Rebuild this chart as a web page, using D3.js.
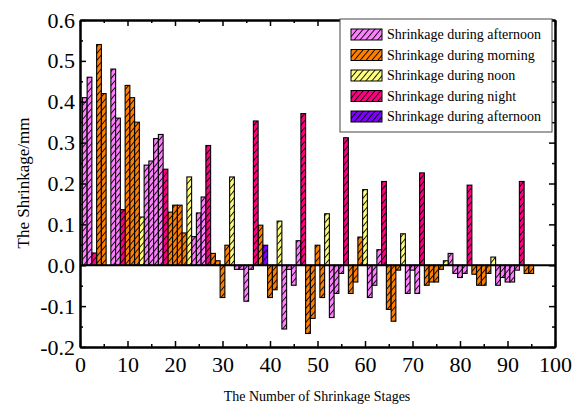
<!DOCTYPE html>
<html>
<head>
<meta charset="utf-8">
<script src="https://cdn.jsdelivr.net/npm/d3@7"></script>
<style>
  body { margin: 0; background: #fff; }
</style>
</head>
<body>
<svg id="chart" width="583" height="408"></svg>
<script>
// series: stage number and shrinkage (mm)
const afternoonStages = [1, 2, 7, 8, 14, 15, 16, 17, 24, 25, 26, 33, 34, 35, 36, 43, 44, 45, 46, 53, 54, 55, 61, 62, 63, 69, 70, 71, 78, 79, 80, 81, 88, 89, 90, 91, 92];
const afternoonValues = [0.41, 0.46, 0.48, 0.36, 0.245, 0.255, 0.31, 0.32, 0.07, 0.128, 0.167, -0.01, -0.01, -0.088, -0.01, -0.156, -0.01, -0.049, 0.06, -0.128, -0.069, -0.02, -0.079, -0.049, 0.038, -0.069, -0.012, -0.069, 0.029, -0.02, -0.03, -0.02, -0.049, -0.03, -0.041, -0.041, -0.012];

const morningStages = [4, 5, 10, 11, 12, 19, 20, 21, 22, 28, 29, 30, 31, 38, 40, 41, 48, 49, 50, 51, 57, 58, 59, 65, 66, 67, 73, 74, 75, 76, 83, 84, 85, 86, 94, 95];
const morningValues = [0.54, 0.42, 0.44, 0.41, 0.35, 0.13, 0.147, 0.147, 0.079, 0.029, 0.011, -0.079, 0.049, 0.098, -0.079, -0.06, -0.167, -0.13, 0.049, -0.079, -0.069, -0.041, 0.069, -0.108, -0.137, -0.012, -0.049, -0.041, -0.041, -0.01, -0.022, -0.049, -0.049, -0.02, -0.02, -0.02];

const noonStages = [13, 23, 32, 42, 52, 60, 68, 77, 87];
const noonValues = [0.118, 0.216, 0.216, 0.108, 0.126, 0.185, 0.077, 0.011, 0.02];

const nightStages = [3, 9, 18, 27, 37, 47, 56, 64, 72, 82, 93];
const nightValues = [0.03, 0.136, 0.235, 0.293, 0.353, 0.371, 0.312, 0.205, 0.226, 0.196, 0.205];

const afternoon2Stages = [39];
const afternoon2Values = [0.049];

const seriesNames = [
  "Shrinkage during afternoon",
  "Shrinkage during morning",
  "Shrinkage during noon",
  "Shrinkage during night",
  "Shrinkage during afternoon"
];
const xTicks = [0, 10, 20, 30, 40, 50, 60, 70, 80, 90, 100];
const yTicks = [-0.2, -0.1, 0, 0.1, 0.2, 0.3, 0.4, 0.5, 0.6];

const colors = ["#ff80ff", "#ff8000", "#ffff80", "#ff0080", "#8000ff"];
const serif = "'Liberation Serif', serif";

const series = [
  [afternoonStages, afternoonValues],
  [morningStages, morningValues],
  [noonStages, noonValues],
  [nightStages, nightValues],
  [afternoon2Stages, afternoon2Values]
].map(([st, vals], k) => st.map((s, i) => ({ stage: s, value: vals[i], k: k })));

const svg = d3.select("#chart");
const x = d3.scaleLinear().domain([0, 100]).range([80, 555]);
const y = d3.scaleLinear().domain([-0.2, 0.6]).range([347, 20]);
const barW = x(1) - x(0);

// hatched fills
const defs = svg.append("defs");
colors.forEach((c, k) => {
  const p = defs.append("pattern")
    .attr("id", "hatch" + k)
    .attr("patternUnits", "userSpaceOnUse")
    .attr("width", 4.5)
    .attr("height", 4.5)
    .attr("patternTransform", "rotate(40)");
  p.append("rect").attr("width", 4.5).attr("height", 4.5).attr("fill", c);
  p.append("line")
    .attr("x1", 0.5).attr("y1", 0).attr("x2", 0.5).attr("y2", 4.5)
    .attr("stroke", "#000").attr("stroke-width", 0.9);
});

// bars
series.forEach((data, k) => {
  svg.append("g")
    .selectAll("rect")
    .data(data)
    .enter()
    .append("rect")
    .attr("x", (d) => x(d.stage - 0.5))
    .attr("width", barW)
    .attr("y", (d) => y(Math.max(0, d.value)))
    .attr("height", (d) => Math.abs(y(d.value) - y(0)))
    .attr("fill", "url(#hatch" + k + ")")
    .attr("stroke", "#000")
    .attr("stroke-width", 1.1);
});

// zero line
svg.append("line")
  .attr("x1", x(0)).attr("x2", x(100))
  .attr("y1", y(0)).attr("y2", y(0))
  .attr("stroke", "#000").attr("stroke-width", 2);

const xMinor = d3.range(5, 100, 10);
const yMinor = [-0.15, -0.05, 0.05, 0.15, 0.25, 0.35, 0.45, 0.55];

function styleAxis(g) {
  g.select(".domain").attr("stroke-width", 2);
  g.selectAll(".tick line").attr("stroke-width", 1.5);
  g.selectAll(".tick text").style("font-family", serif).style("font-size", "22px").attr("fill", "#000");
}

// bottom
svg.append("g").attr("transform", `translate(0,${y(-0.2)})`)
  .call(d3.axisBottom(x).tickValues(xTicks).tickSize(-6).tickSizeOuter(0).tickPadding(9).tickFormat(d3.format("d")))
  .call(styleAxis);
svg.append("g").attr("transform", `translate(0,${y(-0.2)})`)
  .call(d3.axisBottom(x).tickValues(xMinor).tickSize(-3).tickSizeOuter(0).tickFormat(""))
  .call(styleAxis);
// top
svg.append("g").attr("transform", `translate(0,${y(0.6)})`)
  .call(d3.axisTop(x).tickValues(xTicks).tickSize(-6).tickSizeOuter(0).tickFormat(""))
  .call(styleAxis);
svg.append("g").attr("transform", `translate(0,${y(0.6)})`)
  .call(d3.axisTop(x).tickValues(xMinor).tickSize(-3).tickSizeOuter(0).tickFormat(""))
  .call(styleAxis);
// left
svg.append("g").attr("transform", `translate(${x(0)},0)`)
  .call(d3.axisLeft(y).tickValues(yTicks).tickSize(-6).tickSizeOuter(0).tickPadding(5).tickFormat((d) => d.toFixed(1)))
  .call(styleAxis);
svg.append("g").attr("transform", `translate(${x(0)},0)`)
  .call(d3.axisLeft(y).tickValues(yMinor).tickSize(-3).tickSizeOuter(0).tickFormat(""))
  .call(styleAxis);
// right
svg.append("g").attr("transform", `translate(${x(100)},0)`)
  .call(d3.axisRight(y).tickValues(yTicks).tickSize(-6).tickSizeOuter(0).tickFormat(""))
  .call(styleAxis);
svg.append("g").attr("transform", `translate(${x(100)},0)`)
  .call(d3.axisRight(y).tickValues(yMinor).tickSize(-3).tickSizeOuter(0).tickFormat(""))
  .call(styleAxis);

// axis titles
svg.append("text")
  .attr("x", 317).attr("y", 401)
  .attr("text-anchor", "middle")
  .style("font-family", serif)
  .style("font-size", "14px")
  .text("The Number of Shrinkage Stages");
svg.append("text")
  .attr("transform", "translate(29,183) rotate(-90)")
  .attr("text-anchor", "middle")
  .style("font-family", serif)
  .style("font-size", "17px")
  .text("The Shrinkage/mm");

// legend
const legend = svg.append("g");
legend.append("rect")
  .attr("x", 340).attr("y", 19)
  .attr("width", 212).attr("height", 113)
  .attr("fill", "#fff")
  .attr("stroke", "#444").attr("stroke-width", 1);
const rows = legend.selectAll("g.row")
  .data(seriesNames)
  .enter()
  .append("g")
  .attr("class", "row")
  .attr("transform", (d, i) => `translate(351,${29 + i * 20.5})`);
rows.append("rect")
  .attr("width", 31).attr("height", 11)
  .attr("fill", (d, i) => "url(#hatch" + i + ")")
  .attr("stroke", "#000").attr("stroke-width", 1);
rows.append("text")
  .attr("x", 36).attr("y", 5.5)
  .attr("dy", "0.35em")
  .style("font-family", serif)
  .style("font-size", "14px")
  .text((d) => d);
</script>
</body>
</html>
